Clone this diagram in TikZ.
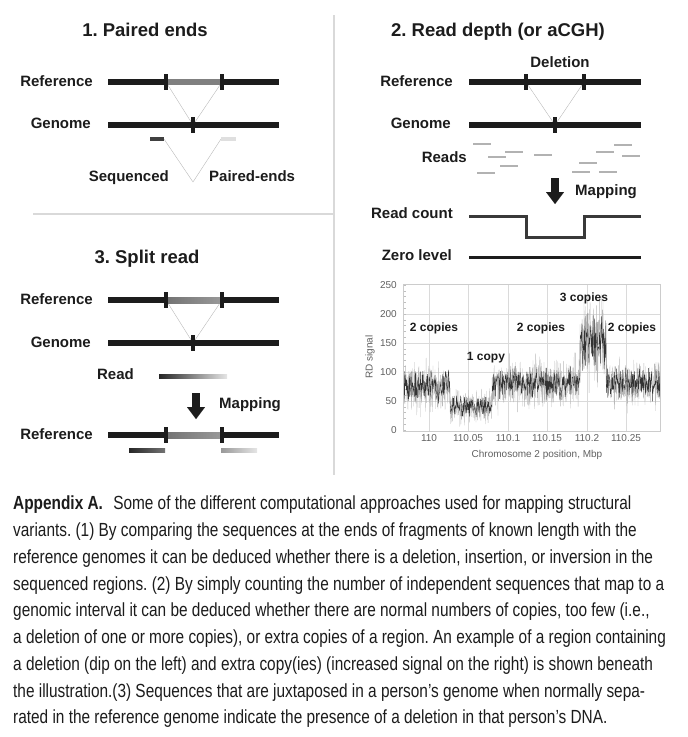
\documentclass[tikz,border=0pt]{standalone}
\usepackage{fontspec}
\setmainfont{Liberation Sans}
\newfontfamily\capfont[FakeStretch=0.81]{Liberation Sans}
\usetikzlibrary{arrows.meta, positioning, calc}
\definecolor{inkdark}{RGB}{28,28,28}
\definecolor{midgrey}{RGB}{128,128,128}
\definecolor{gridgrey}{RGB}{218,218,218}
\frenchspacing

\begin{document}
\begin{tikzpicture}[x=1pt, y=-1pt,
  ttl/.style={font=\fontsize{18.5}{20}\selectfont\bfseries, text=inkdark, inner sep=0pt, anchor=base},
  lab/.style={font=\fontsize{15}{17}\selectfont\bfseries, text=inkdark, inner sep=0pt, anchor=base east},
  chrom/.style={line width=6pt, draw=inkdark},
  brk/.style={line width=3.5pt, draw=inkdark},
  guide/.style={line width=0.4pt, draw=gray!55},
  shortread/.style={line width=1.3pt, draw=gray!60},
  bigarrow/.style={line width=8pt, draw=inkdark, -{Triangle[width=18pt, length=12pt, line width=0.01pt]}},
  divider/.style={line width=1.2pt, draw=gray!30},
  copylab/.style={font=\fontsize{12}{14}\selectfont\bfseries, text=inkdark, inner sep=0pt, anchor=base},
  axlab/.style={font=\fontsize{10}{12}\selectfont, text=gray!75!black, inner sep=0pt},
  declare function={
    lvl(\t)=75*(\t<450)+40*(\t>450)*(\t<492)+80*(\t>492)*(\t<580)+150*(\t>580)*(\t<606)+80*(\t>606);
    amp(\t)=21-7*(\t>450)*(\t<492)+14*(\t>580)*(\t<606);
  }
]
\useasboundingbox (0,0) rectangle (688,737);

\draw[divider] (334,15) -- (334,475);
\draw[divider] (33,214) -- (334,214);

% 1. paired ends
\node[ttl] (t1) at (145,36.7) {1. Paired ends};
\node[lab] (ref1) at (93,86.4) {Reference};
\node[lab] (gen1) at (91,128.4) {Genome};
\coordinate (r1a) at (166,82);
\coordinate (r1b) at (222,82);
\coordinate (g1) at (193,125);
\draw[guide] (r1a) -- (g1) -- (r1b);
\draw[chrom] (108,82) -- (279,82);
\draw[chrom, draw=midgrey] (r1a) -- (r1b);
\draw[chrom] (108,125) -- (279,125);
\foreach \c in {r1a,r1b,g1}
  \draw[brk] ($(\c)+(0,-8)$) -- ($(\c)+(0,8)$);
\coordinate (s1a) at (164,139);
\coordinate (s1b) at (221,139);
\coordinate (v1) at (193,182);
\draw[guide] (s1a) -- (v1) -- (s1b);
\draw[line width=3.5pt, draw=gray!50!black] (150,139) -- (s1a);
\draw[line width=3.5pt, draw=gray!25] (s1b) -- (236,139);
\node[lab] (seq1) at (169,181.4) {Sequenced};
\node[lab, anchor=base west] (pe1) at (209,181.4) {Paired-ends};

% 2. read depth
\node[ttl] (t2) at (498,36.7) {2. Read depth (or aCGH)};
\node[lab, anchor=base] (del2) at (560,67.4) {Deletion};
\node[lab] (ref2) at (453,86.4) {Reference};
\node[lab] (gen2) at (451,128.4) {Genome};
\coordinate (r2a) at (526,82);
\coordinate (r2b) at (584,82);
\coordinate (g2) at (555,125);
\draw[guide] (r2a) -- (g2) -- (r2b);
\draw[chrom] (469,82) -- (641,82);
\draw[chrom] (469,125) -- (641,125);
\foreach \c in {r2a,r2b,g2}
  \draw[brk] ($(\c)+(0,-8)$) -- ($(\c)+(0,8)$);
\node[lab] (reads2) at (467,162.4) {Reads};
\foreach \xa/\yy in {473/144, 505/152, 488/157, 500/166, 477/173, 534/155,
                     614/145, 596/152, 622/156, 579/163, 572/172, 599/172}
  \draw[shortread] (\xa,\yy) -- ++(18,0);
\coordinate (m2a) at (555,178);
\coordinate (m2b) at (555,204);
\draw[bigarrow] (m2a) -- (m2b);
\node[lab, anchor=base west] (map2) at (575,195.4) {Mapping};
\node[lab] (rc2) at (453,218.4) {Read count};
\draw[line width=3pt, draw=gray!45!black] (469,216) -- (526,216) -- (526,237) -- (584,237) -- (584,216) -- (641,216);
\node[lab] (zl2) at (452,260.4) {Zero level};
\draw[line width=3pt, draw=inkdark] (469,257) -- (641,257);

% 3. split read
\node[ttl] (t3) at (147,263.7) {3. Split read};
\node[lab] (ref3) at (93,304.4) {Reference};
\node[lab] (gen3) at (91,347.4) {Genome};
\coordinate (r3a) at (166,300);
\coordinate (r3b) at (222,300);
\coordinate (g3) at (193,343);
\draw[guide] (r3a) -- (g3) -- (r3b);
\draw[chrom] (108,300) -- (279,300);
\shade[left color=gray!90!black, right color=gray!80] (166,297) rectangle (222,303);
\draw[chrom] (108,343) -- (279,343);
\node[lab] (read3) at (134,379.4) {Read};
\shade[left color=gray!30!black, right color=gray!20] (159,374) rectangle (227,378);
\coordinate (m3a) at (196,393);
\coordinate (m3b) at (196,419);
\draw[bigarrow] (m3a) -- (m3b);
\node[lab, anchor=base west] (map3) at (219,408.4) {Mapping};
\node[lab] (ref3b) at (93,439.4) {Reference};
\coordinate (r3c) at (166,435);
\coordinate (r3d) at (222,435);
\draw[chrom] (108,435) -- (279,435);
\shade[left color=gray!90!black, right color=gray!80] (166,432) rectangle (222,438);
\foreach \c in {r3a,r3b,g3,r3c,r3d}
  \draw[brk] ($(\c)+(0,-8)$) -- ($(\c)+(0,8)$);
\shade[left color=gray!30!black, right color=gray!90!black] (129,448) rectangle (165,452);
\shade[left color=gray!80, right color=gray!20] (221,448) rectangle (257,452);

% RD plot
\foreach \xx in {429,468,508,547,587,626}
  \draw[gridgrey, line width=0.6pt] (\xx,284) -- (\xx,431);
\foreach \v in {50,100,150,200}
  \draw[gridgrey, line width=0.6pt] (403,{430-0.58*\v}) -- (660,{430-0.58*\v});
\foreach \v in {0,10,...,250}
  \draw[gray!50, line width=0.4pt] (403,{430-0.58*\v}) -- (406,{430-0.58*\v});
\begin{scope}
  \clip (403,284) rectangle (660,431);
  \pgfmathsetseed{11}
  \draw[gray!55, line width=0.3pt] plot[domain=403:660, samples=1100]
    (\x, {430-0.58*(lvl(\x)+amp(\x)*(rand+rand+rand))});
  \draw[gray!40!black, line width=0.35pt] plot[domain=403:660, samples=700]
    (\x, {430-0.58*(lvl(\x)+0.8*amp(\x)*(rand+rand))});
\end{scope}
\draw[gray!40, line width=0.6pt] (403,284) rectangle (660,431);
\foreach \v in {0,50,...,250}
  \node[axlab, anchor=east] at (397,{430-0.58*\v}) {\v};
\foreach \xx/\txt in {429/110, 468/110.05, 508/110.1, 547/110.15, 587/110.2, 626/110.25}
  \node[axlab, anchor=base] at (\xx,441) {\txt};
\node[axlab, rotate=90] (ylab) at (370,357) {RD signal};
\node[axlab, anchor=base] (xlab) at (537,457) {Chromosome 2 position, Mbp};
\node[copylab] (c2a) at (434,331.3) {2 copies};
\node[copylab] (c1) at (486,360.3) {1 copy};
\node[copylab] (c2b) at (541,331.3) {2 copies};
\node[copylab] (c3) at (584,301.3) {3 copies};
\node[copylab] (c2c) at (632,331.3) {2 copies};

% caption
\node[anchor=north west, align=left, inner sep=0pt, text=inkdark,
      font=\capfont\fontsize{19}{26.75}\selectfont] (caption) at (13,496) {%
\textbf{Appendix A.}\hspace{6pt} Some of the different computational approaches used for mapping structural\\
variants. (1) By comparing the sequences at the ends of fragments of known length with the\\
reference genomes it can be deduced whether there is a deletion, insertion, or inversion in the\\
sequenced regions. (2) By simply counting the number of independent sequences that map to a\\
genomic interval it can be deduced whether there are normal numbers of copies, too few (i.e.,\\
a deletion of one or more copies), or extra copies of a region. An example of a region containing\\
a deletion (dip on the left) and extra copy(ies) (increased signal on the right) is shown beneath\\
the illustration.(3) Sequences that are juxtaposed in a person’s genome when normally sepa-\\
rated in the reference genome indicate the presence of a deletion in that person’s DNA.};
\end{tikzpicture}
\end{document}
